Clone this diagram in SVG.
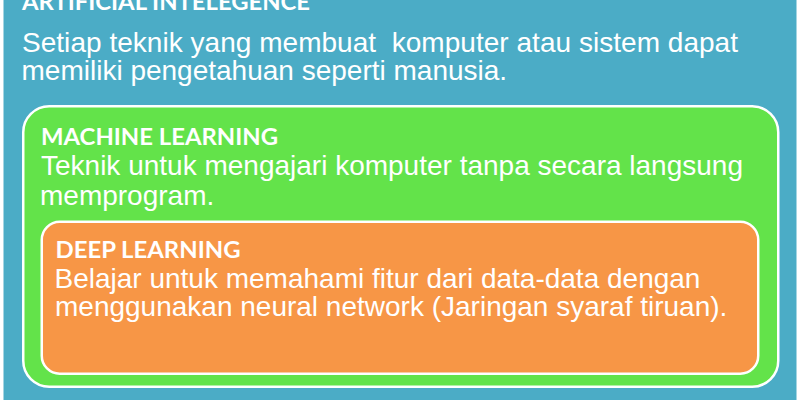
<svg xmlns="http://www.w3.org/2000/svg" width="800" height="400" viewBox="0 0 800 400">
  <style>
    .title { font-family: Lato, "Open Sans", "Liberation Sans", sans-serif; font-weight: 700; font-size: 22px; fill: #ffffff; }
    .body { font-family: "Liberation Sans", Arial, sans-serif; font-size: 28px; fill: #ffffff; white-space: pre; }
    .box { stroke: #ffffff; stroke-width: 2.5; }
  </style>
  <rect x="0" y="0" width="800" height="400" fill="#ffffff"/>
  <g id="artificial-intelligence">
    <rect x="3.5" y="-20" width="793" height="440" fill="#4BACC6"/>
    <text class="title" x="22" y="9.5" textLength="288" lengthAdjust="spacingAndGlyphs">ARTIFICIAL INTELEGENCE</text>
    <text class="body" x="22" y="52" textLength="716" lengthAdjust="spacing">Setiap teknik yang membuat  komputer atau sistem dapat</text>
    <text class="body" x="21.5" y="80">memiliki pengetahuan seperti manusia.</text>
  </g>
  <g id="machine-learning">
    <rect class="box" x="23.25" y="106.25" width="755" height="280.5" rx="26" ry="26" fill="#63E34A"/>
    <text class="title" x="41" y="145" textLength="237" lengthAdjust="spacingAndGlyphs">MACHINE LEARNING</text>
    <text class="body" x="41" y="175">Teknik untuk mengajari komputer tanpa secara langsung</text>
    <text class="body" x="40" y="205">memprogram.</text>
  </g>
  <g id="deep-learning">
    <rect class="box" x="41.75" y="221.75" width="716.5" height="152" rx="18" ry="18" fill="#F79646"/>
    <text class="title" x="55.5" y="258" textLength="185" lengthAdjust="spacingAndGlyphs">DEEP LEARNING</text>
    <text class="body" x="54.5" y="288">Belajar untuk memahami fitur dari data-data dengan</text>
    <text class="body" x="55" y="316">menggunakan neural network (Jaringan syaraf tiruan).</text>
  </g>
  <g id="connectors"/>
</svg>
